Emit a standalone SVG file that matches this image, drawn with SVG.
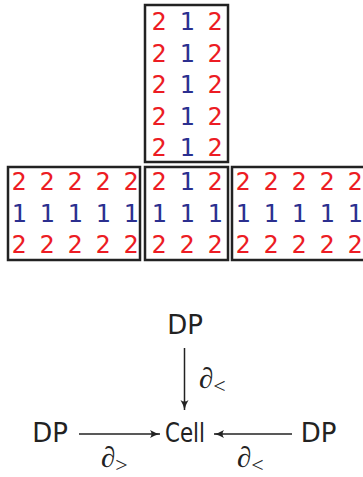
<svg xmlns="http://www.w3.org/2000/svg" width="363" height="477" viewBox="0 0 363 477">
<style>
.box{fill:none;stroke:#222;stroke-width:2.5}
.n{font-family:"DejaVu Sans Mono",monospace;font-size:25px;text-anchor:middle}
.r{fill:#ec1c24}
.b{fill:#2b2f8f}
.lbl{font-family:"DejaVu Sans","Liberation Sans",sans-serif;font-size:26px;fill:#222;text-anchor:middle}
.d{font-family:"Liberation Serif",serif;font-style:italic;font-size:29px;fill:#222}
.s{font-family:"Liberation Serif",serif;font-size:22px;fill:#222}
.ln{stroke:#222;stroke-width:1.5;fill:none}
</style>
<defs>
<marker id="ah" markerWidth="12" markerHeight="10" refX="10" refY="5" orient="auto" markerUnits="userSpaceOnUse">
<path d="M0,1 Q5,4 10,5 Q5,6 0,9 Q3,5 0,1 Z" fill="#222"/>
</marker>
</defs>
<g id="top-box">
<rect class="box" x="145" y="5" width="83" height="157"/>
<text class="n" y="30"><tspan class="r" x="159">2</tspan><tspan class="b" x="187">1</tspan><tspan class="r" x="215">2</tspan></text>
<text class="n" y="62"><tspan class="r" x="159">2</tspan><tspan class="b" x="187">1</tspan><tspan class="r" x="215">2</tspan></text>
<text class="n" y="93"><tspan class="r" x="159">2</tspan><tspan class="b" x="187">1</tspan><tspan class="r" x="215">2</tspan></text>
<text class="n" y="125"><tspan class="r" x="159">2</tspan><tspan class="b" x="187">1</tspan><tspan class="r" x="215">2</tspan></text>
<text class="n" y="156"><tspan class="r" x="159">2</tspan><tspan class="b" x="187">1</tspan><tspan class="r" x="215">2</tspan></text>
</g>
<g id="left-box">
<rect class="box" x="8" y="167" width="132" height="93"/>
<text class="n r" y="190"><tspan x="19">2</tspan><tspan x="47">2</tspan><tspan x="75">2</tspan><tspan x="103">2</tspan><tspan x="131">2</tspan></text>
<text class="n b" y="222"><tspan x="19">1</tspan><tspan x="47">1</tspan><tspan x="75">1</tspan><tspan x="103">1</tspan><tspan x="131">1</tspan></text>
<text class="n r" y="253"><tspan x="19">2</tspan><tspan x="47">2</tspan><tspan x="75">2</tspan><tspan x="103">2</tspan><tspan x="131">2</tspan></text>
</g>
<g id="middle-box">
<rect class="box" x="145" y="167" width="83" height="93"/>
<text class="n" y="190"><tspan class="r" x="159">2</tspan><tspan class="b" x="187">1</tspan><tspan class="r" x="215">2</tspan></text>
<text class="n b" y="222"><tspan x="159">1</tspan><tspan x="187">1</tspan><tspan x="215">1</tspan></text>
<text class="n r" y="253"><tspan x="159">2</tspan><tspan x="187">2</tspan><tspan x="215">2</tspan></text>
</g>
<g id="right-box">
<rect class="box" x="232" y="167" width="140" height="93"/>
<text class="n r" y="190"><tspan x="243">2</tspan><tspan x="271">2</tspan><tspan x="299">2</tspan><tspan x="327">2</tspan><tspan x="355">2</tspan></text>
<text class="n b" y="222"><tspan x="243">1</tspan><tspan x="271">1</tspan><tspan x="299">1</tspan><tspan x="327">1</tspan><tspan x="355">1</tspan></text>
<text class="n r" y="253"><tspan x="243">2</tspan><tspan x="271">2</tspan><tspan x="299">2</tspan><tspan x="327">2</tspan><tspan x="355">2</tspan></text>
</g>
<g id="dp-top"><text class="lbl" x="185" y="334">DP</text></g>
<g id="dp-left"><text class="lbl" x="50" y="442">DP</text></g>
<g id="cell"><text class="lbl" x="185" y="442" textLength="40" lengthAdjust="spacingAndGlyphs">Cell</text></g>
<g id="dp-right"><text class="lbl" x="318.5" y="442">DP</text></g>
<g id="connectors">
<line class="ln" x1="184.5" y1="348" x2="184.5" y2="410" marker-end="url(#ah)"/>
<line class="ln" x1="79" y1="434" x2="160" y2="434" marker-end="url(#ah)"/>
<line class="ln" x1="292" y1="434" x2="214" y2="434" marker-end="url(#ah)"/>
<text x="199" y="388"><tspan class="d">∂</tspan><tspan class="s" dy="5">&lt;</tspan></text>
<text x="101" y="467"><tspan class="d">∂</tspan><tspan class="s" dy="5">&gt;</tspan></text>
<text x="237" y="467"><tspan class="d">∂</tspan><tspan class="s" dy="5">&lt;</tspan></text>
</g>
</svg>
